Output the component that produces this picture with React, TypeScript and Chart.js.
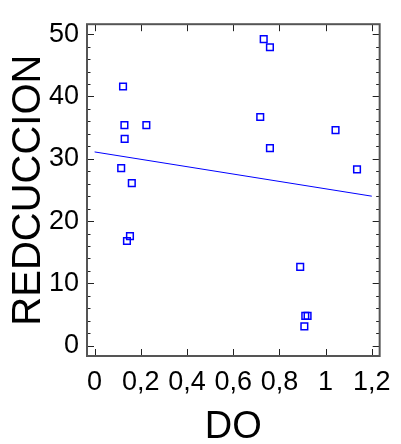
import React, { useEffect, useRef } from "react";
import { Chart, registerables } from "chart.js";

Chart.register(...registerables);

// DO (x) and REDCUCCION (y) observations
const doValues = [
  0.123, 0.129, 0.224, 0.130, 0.115, 0.161,
  0.732, 0.759, 0.717, 1.043, 0.759, 1.136,
  0.153, 0.140,
  0.890, 0.912, 0.922, 0.908,
];
const reduccionValues = [
  41.6, 35.4, 35.4, 33.2, 28.5, 26.1,
  49.2, 47.9, 36.7, 34.6, 31.7, 28.3,
  17.6, 16.8,
  12.65, 4.8, 4.8, 3.1,
];

// fitted line end points
const fitX = [0, 1.2];
const fitY = [31.1, 24.0];

// axis ticks
const xTicks = [0, 0.2, 0.4, 0.6, 0.8, 1.0, 1.2];
const xTickLabels = ["0", "0,2", "0,4", "0,6", "0,8", "1", "1,2"];
const yTicks = [0, 10, 20, 30, 40, 50];
const yTickLabels = ["0", "10", "20", "30", "40", "50"];
const yMinorStep = 2;

const FONT = "'Liberation Sans', Arial, Helvetica, sans-serif";

// Box frame with inward tick marks on all four sides
const framePlugin = {
  id: "frameTicks",
  afterDraw(chart: any) {
    const { ctx, chartArea } = chart;
    const { left, right, top, bottom } = chartArea;
    const xs = chart.scales.x;
    const ys = chart.scales.y;
    ctx.save();
    ctx.strokeStyle = "#222";
    ctx.lineWidth = 1;
    ctx.beginPath();
    const major = 7;
    const minor = 3.5;
    xTicks.forEach((v) => {
      const px = Math.round(xs.getPixelForValue(v)) + 0.5;
      ctx.moveTo(px, bottom);
      ctx.lineTo(px, bottom - major);
      ctx.moveTo(px, top);
      ctx.lineTo(px, top + major);
    });
    const first = Math.ceil(ys.min / yMinorStep) * yMinorStep;
    for (let val = first; val <= ys.max; val += yMinorStep) {
      const len = yTicks.includes(val) ? major : minor;
      const py = Math.round(ys.getPixelForValue(val)) + 0.5;
      ctx.moveTo(left, py);
      ctx.lineTo(left + len, py);
      ctx.moveTo(right, py);
      ctx.lineTo(right - len, py);
    }
    ctx.stroke();
    ctx.strokeStyle = "#555";
    ctx.lineWidth = 2;
    ctx.strokeRect(left, top, right - left, bottom - top);
    ctx.restore();
  },
};

export default function App() {
  const canvasRef = useRef<HTMLCanvasElement | null>(null);

  useEffect(() => {
    if (!canvasRef.current) return;
    const points = doValues.map((x, i) => ({ x, y: reduccionValues[i] }));
    const fit = fitX.map((x, i) => ({ x, y: fitY[i] }));

    const chart = new Chart(canvasRef.current, {
      type: "scatter",
      data: {
        datasets: [
          {
            data: points,
            pointStyle: "rect",
            pointRadius: 4.7,
            pointHoverRadius: 4.7,
            borderColor: "#0000ff",
            backgroundColor: "rgba(0,0,0,0)",
            borderWidth: 1.5,
            showLine: false,
          },
          {
            data: fit,
            showLine: true,
            pointRadius: 0,
            borderColor: "#0000ff",
            borderWidth: 1,
            fill: false,
          },
        ],
      },
      options: {
        responsive: false,
        animation: false,
        devicePixelRatio: 1,
        layout: { padding: { top: 11, right: 16, left: 0, bottom: 0 } },
        plugins: {
          legend: { display: false },
          tooltip: { enabled: false },
        },
        scales: {
          x: {
            type: "linear",
            min: -0.033,
            max: 1.234,
            afterBuildTicks: (s: any) => {
              s.ticks = xTicks.map((value) => ({ value }));
            },
            afterFit: (s: any) => {
              s.height = 88;
            },
            grid: { display: false, drawTicks: false },
            border: { display: false },
            ticks: {
              padding: 10,
              color: "#000",
              font: { family: FONT, size: 27 },
              maxRotation: 0,
              autoSkip: false,
              callback: (v: any) => xTickLabels[xTicks.indexOf(Number(v))] ?? "",
            },
            title: {
              display: true,
              text: "DO",
              color: "#000",
              font: { family: FONT, size: 38, lineHeight: 1 },
              padding: { top: 0, bottom: -3 },
            },
          },
          y: {
            type: "linear",
            min: -1.65,
            max: 51.6,
            afterBuildTicks: (s: any) => {
              s.ticks = yTicks.map((value) => ({ value }));
            },
            afterFit: (s: any) => {
              s.width = 87;
            },
            grid: { display: false, drawTicks: false },
            border: { display: false },
            ticks: {
              padding: 8,
              color: "#000",
              font: { family: FONT, size: 27 },
              autoSkip: false,
              callback: (v: any) => yTickLabels[yTicks.indexOf(Number(v))] ?? "",
            },
            title: {
              display: true,
              text: "REDCUCCION",
              color: "#000",
              font: { family: FONT, size: 40, lineHeight: 1 },
              padding: { top: 9, bottom: 0 },
            },
          },
        },
      },
      plugins: [framePlugin],
    });

    return () => chart.destroy();
  }, []);

  return (
    <div
      style={{
        position: "absolute",
        left: 0,
        top: 0,
        width: 401,
        height: 444,
        background: "#fff",
      }}
    >
      <canvas ref={canvasRef} width={401} height={444} />
    </div>
  );
}
